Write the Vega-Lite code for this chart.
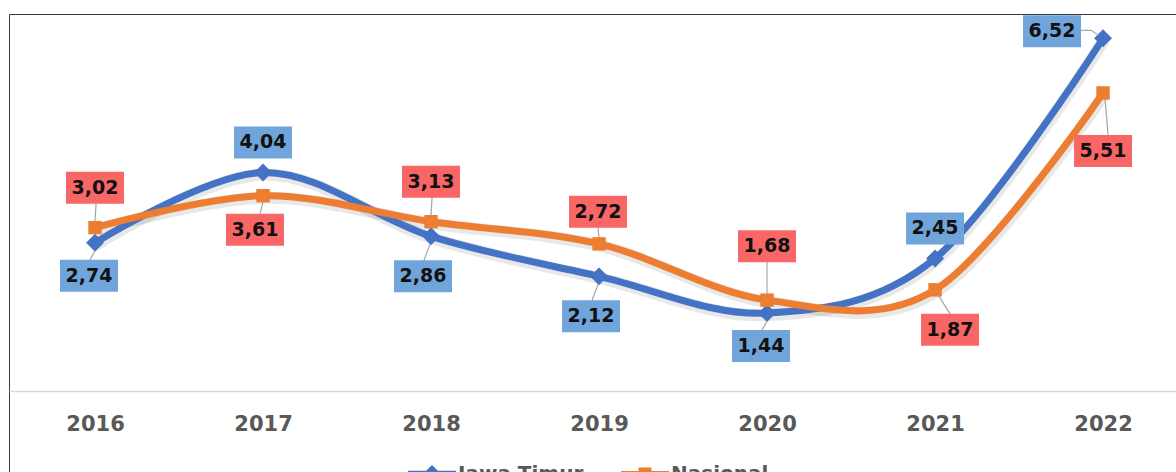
{
  "$schema": "https://vega.github.io/schema/vega-lite/v6.json",
  "autosize": {"type": "none"},
  "padding": {"left": 9, "top": 14, "right": -5, "bottom": -4},
  "width": 1172,
  "height": 462,
  "background": "white",
  "config": {
    "view": {"stroke": "#3a3a3a", "strokeWidth": 1},
    "locale": {"number": {"decimal": ",", "thousands": ".", "grouping": [3], "currency": ["Rp", ""]}}
  },
  "data": {
    "values": [
      {"year": 2016, "series": "Jawa Timur", "v": 2.74},
      {"year": 2017, "series": "Jawa Timur", "v": 4.04},
      {"year": 2018, "series": "Jawa Timur", "v": 2.86},
      {"year": 2019, "series": "Jawa Timur", "v": 2.12},
      {"year": 2020, "series": "Jawa Timur", "v": 1.44},
      {"year": 2021, "series": "Jawa Timur", "v": 2.45},
      {"year": 2022, "series": "Jawa Timur", "v": 6.52},
      {"year": 2016, "series": "Nasional", "v": 3.02},
      {"year": 2017, "series": "Nasional", "v": 3.61},
      {"year": 2018, "series": "Nasional", "v": 3.13},
      {"year": 2019, "series": "Nasional", "v": 2.72},
      {"year": 2020, "series": "Nasional", "v": 1.68},
      {"year": 2021, "series": "Nasional", "v": 1.87},
      {"year": 2022, "series": "Nasional", "v": 5.51}
    ]
  },
  "encoding": {
    "x": {
      "field": "year", "type": "quantitative",
      "scale": {"domain": [2015.488, 2022.464], "nice": false, "zero": false},
      "axis": {
        "values": [2016, 2017, 2018, 2019, 2020, 2021, 2022], "format": "d",
        "orient": "bottom", "offset": -85, "grid": false, "ticks": false, "tickSize": 0,
        "domainColor": "#D9D9D9", "domainWidth": 1.5,
        "labelFont": "DejaVu Sans", "labelFontWeight": "bold", "labelFontSize": 21,
        "labelColor": "#595959", "labelPadding": 22, "title": null,
        "labelFlush": false, "labelOverlap": false
      }
    },
    "y": {
      "field": "v", "type": "quantitative",
      "scale": {"domain": [-1.571, 6.969], "nice": false, "zero": false},
      "axis": null
    }
  },
  "layer": [
    {
      "mark": {"type": "line", "interpolate": "cardinal", "strokeWidth": 12, "opacity": 0.09, "yOffset": 2, "xOffset": 1},
      "encoding": {"detail": {"field": "series"}, "color": {"value": "#000000"}}
    },
    {
      "mark": {"type": "line", "interpolate": "cardinal", "strokeWidth": 7},
      "encoding": {
        "color": {"field": "series", "type": "nominal",
          "scale": {"domain": ["Jawa Timur", "Nasional"], "range": ["#4472C4", "#ED7D31"]},
          "legend": {"orient": "none", "legendX": 399, "legendY": 436, "direction": "horizontal", "title": null,
            "symbolType": "M-1,-0.14H1V0.14H-1Z M0,-0.38L0.38,0L0,0.38L-0.38,0Z",
            "symbolSize": 2304, "symbolStrokeWidth": 0, "symbolOpacity": 1,
            "labelFont": "DejaVu Sans", "labelFontWeight": "bold", "labelFontSize": 20, "labelColor": "#595959",
            "labelOffset": 2, "columnPadding": 37, "padding": 0,
            "encode": {"symbols": {"update": {
              "fill": {"signal": "datum.value == 'Nasional' ? '#ED7D31' : '#4472C4'"},
              "shape": {"signal": "datum.value == 'Nasional' ? 'M-1,-0.13H1V0.13H-1Z M-0.27,-0.27H0.27V0.27H-0.27Z' : 'M-1,-0.14H1V0.14H-1Z M0,-0.38L0.38,0L0,0.38L-0.38,0Z'"},
              "strokeWidth": {"value": 0},
              "opacity": {"value": 1}
            }}}}}
      }
    },
    {
      "transform": [{"filter": {"field": "series", "equal": "Jawa Timur"}}],
      "mark": {"type": "point", "shape": "diamond", "size": 320, "filled": true, "opacity": 1, "fill": "#4472C4", "strokeWidth": 0}
    },
    {
      "transform": [{"filter": {"field": "series", "equal": "Nasional"}}],
      "mark": {"type": "point", "shape": "square", "size": 180, "filled": true, "opacity": 1, "fill": "#ED7D31", "strokeWidth": 0}
    },
    {
      "transform": [{"filter": {"and": [{"field": "series", "equal": "Jawa Timur"}, {"field": "year", "oneOf": [2016, 2020]}]}}],
      "layer": [
        {"mark": {"type": "point", "shape": "M0,8L-5,17", "size": 4, "filled": false, "stroke": "#A6A6A6", "strokeWidth": 1.2, "opacity": 1}},
        {"mark": {"type": "point", "shape": "M-35,17H23V49H-35Z", "size": 4, "filled": true, "fill": "#70A5DB", "strokeWidth": 0, "opacity": 1}},
        {"mark": {"type": "text", "dx": -6, "dy": 33, "baseline": "middle", "align": "center", "font": "DejaVu Sans", "fontWeight": "bold", "fontSize": 19, "fill": "#111111"},
         "encoding": {"text": {"field": "v", "type": "quantitative", "format": ".2f"}}}
      ]
    },
    {
      "transform": [{"filter": {"and": [{"field": "series", "equal": "Jawa Timur"}, {"field": "year", "oneOf": [2018, 2019]}]}}],
      "layer": [
        {"mark": {"type": "point", "shape": "M-1,8L-7,24", "size": 4, "filled": false, "stroke": "#A6A6A6", "strokeWidth": 1.2, "opacity": 1}},
        {"mark": {"type": "point", "shape": "M-37,24H21V56H-37Z", "size": 4, "filled": true, "fill": "#70A5DB", "strokeWidth": 0, "opacity": 1}},
        {"mark": {"type": "text", "dx": -8, "dy": 40, "baseline": "middle", "align": "center", "font": "DejaVu Sans", "fontWeight": "bold", "fontSize": 19, "fill": "#111111"},
         "encoding": {"text": {"field": "v", "type": "quantitative", "format": ".2f"}}}
      ]
    },
    {
      "transform": [{"filter": {"and": [{"field": "series", "equal": "Jawa Timur"}, {"field": "year", "oneOf": [2017, 2021]}]}}],
      "layer": [
        {"mark": {"type": "point", "shape": "M-29,-46H29V-14H-29Z", "size": 4, "filled": true, "fill": "#70A5DB", "strokeWidth": 0, "opacity": 1}},
        {"mark": {"type": "text", "dx": 0, "dy": -30, "baseline": "middle", "align": "center", "font": "DejaVu Sans", "fontWeight": "bold", "fontSize": 19, "fill": "#111111"},
         "encoding": {"text": {"field": "v", "type": "quantitative", "format": ".2f"}}}
      ]
    },
    {
      "transform": [{"filter": {"and": [{"field": "series", "equal": "Jawa Timur"}, {"field": "year", "oneOf": [2022]}]}}],
      "layer": [
        {"mark": {"type": "point", "shape": "M-22,-8L-12,-8L-6,-4", "size": 4, "filled": false, "stroke": "#A6A6A6", "strokeWidth": 1.2, "opacity": 1}},
        {"mark": {"type": "point", "shape": "M-80,-23H-22V9H-80Z", "size": 4, "filled": true, "fill": "#70A5DB", "strokeWidth": 0, "opacity": 1}},
        {"mark": {"type": "text", "dx": -51, "dy": -7, "baseline": "middle", "align": "center", "font": "DejaVu Sans", "fontWeight": "bold", "fontSize": 19, "fill": "#111111"},
         "encoding": {"text": {"field": "v", "type": "quantitative", "format": ".2f"}}}
      ]
    },
    {
      "transform": [{"filter": {"and": [{"field": "series", "equal": "Nasional"}, {"field": "year", "oneOf": [2016, 2018]}]}}],
      "layer": [
        {"mark": {"type": "point", "shape": "M0,-6L1,-24", "size": 4, "filled": false, "stroke": "#A6A6A6", "strokeWidth": 1.2, "opacity": 1}},
        {"mark": {"type": "point", "shape": "M-29,-56H29V-24H-29Z", "size": 4, "filled": true, "fill": "#F96666", "strokeWidth": 0, "opacity": 1}},
        {"mark": {"type": "text", "dx": 0, "dy": -40, "baseline": "middle", "align": "center", "font": "DejaVu Sans", "fontWeight": "bold", "fontSize": 19, "fill": "#111111"},
         "encoding": {"text": {"field": "v", "type": "quantitative", "format": ".2f"}}}
      ]
    },
    {
      "transform": [{"filter": {"and": [{"field": "series", "equal": "Nasional"}, {"field": "year", "oneOf": [2019]}]}}],
      "layer": [
        {"mark": {"type": "point", "shape": "M0,-6L-1,-16", "size": 4, "filled": false, "stroke": "#A6A6A6", "strokeWidth": 1.2, "opacity": 1}},
        {"mark": {"type": "point", "shape": "M-30,-48H28V-16H-30Z", "size": 4, "filled": true, "fill": "#F96666", "strokeWidth": 0, "opacity": 1}},
        {"mark": {"type": "text", "dx": -1, "dy": -32, "baseline": "middle", "align": "center", "font": "DejaVu Sans", "fontWeight": "bold", "fontSize": 19, "fill": "#111111"},
         "encoding": {"text": {"field": "v", "type": "quantitative", "format": ".2f"}}}
      ]
    },
    {
      "transform": [{"filter": {"and": [{"field": "series", "equal": "Nasional"}, {"field": "year", "oneOf": [2020]}]}}],
      "layer": [
        {"mark": {"type": "point", "shape": "M0,-6L0,-38", "size": 4, "filled": false, "stroke": "#A6A6A6", "strokeWidth": 1.2, "opacity": 1}},
        {"mark": {"type": "point", "shape": "M-29,-70H29V-38H-29Z", "size": 4, "filled": true, "fill": "#F96666", "strokeWidth": 0, "opacity": 1}},
        {"mark": {"type": "text", "dx": 0, "dy": -54, "baseline": "middle", "align": "center", "font": "DejaVu Sans", "fontWeight": "bold", "fontSize": 19, "fill": "#111111"},
         "encoding": {"text": {"field": "v", "type": "quantitative", "format": ".2f"}}}
      ]
    },
    {
      "transform": [{"filter": {"and": [{"field": "series", "equal": "Nasional"}, {"field": "year", "oneOf": [2017]}]}}],
      "layer": [
        {"mark": {"type": "point", "shape": "M0,6L-3,18", "size": 4, "filled": false, "stroke": "#A6A6A6", "strokeWidth": 1.2, "opacity": 1}},
        {"mark": {"type": "point", "shape": "M-37,18H21V50H-37Z", "size": 4, "filled": true, "fill": "#F96666", "strokeWidth": 0, "opacity": 1}},
        {"mark": {"type": "text", "dx": -8, "dy": 34, "baseline": "middle", "align": "center", "font": "DejaVu Sans", "fontWeight": "bold", "fontSize": 19, "fill": "#111111"},
         "encoding": {"text": {"field": "v", "type": "quantitative", "format": ".2f"}}}
      ]
    },
    {
      "transform": [{"filter": {"and": [{"field": "series", "equal": "Nasional"}, {"field": "year", "oneOf": [2021]}]}}],
      "layer": [
        {"mark": {"type": "point", "shape": "M3,5L15,24", "size": 4, "filled": false, "stroke": "#A6A6A6", "strokeWidth": 1.2, "opacity": 1}},
        {"mark": {"type": "point", "shape": "M-14,24H44V56H-14Z", "size": 4, "filled": true, "fill": "#F96666", "strokeWidth": 0, "opacity": 1}},
        {"mark": {"type": "text", "dx": 15, "dy": 40, "baseline": "middle", "align": "center", "font": "DejaVu Sans", "fontWeight": "bold", "fontSize": 19, "fill": "#111111"},
         "encoding": {"text": {"field": "v", "type": "quantitative", "format": ".2f"}}}
      ]
    },
    {
      "transform": [{"filter": {"and": [{"field": "series", "equal": "Nasional"}, {"field": "year", "oneOf": [2022]}]}}],
      "layer": [
        {"mark": {"type": "point", "shape": "M2,6L5,42", "size": 4, "filled": false, "stroke": "#A6A6A6", "strokeWidth": 1.2, "opacity": 1}},
        {"mark": {"type": "point", "shape": "M-29,42H29V74H-29Z", "size": 4, "filled": true, "fill": "#F96666", "strokeWidth": 0, "opacity": 1}},
        {"mark": {"type": "text", "dx": 0, "dy": 58, "baseline": "middle", "align": "center", "font": "DejaVu Sans", "fontWeight": "bold", "fontSize": 19, "fill": "#111111"},
         "encoding": {"text": {"field": "v", "type": "quantitative", "format": ".2f"}}}
      ]
    }
  ]
}
